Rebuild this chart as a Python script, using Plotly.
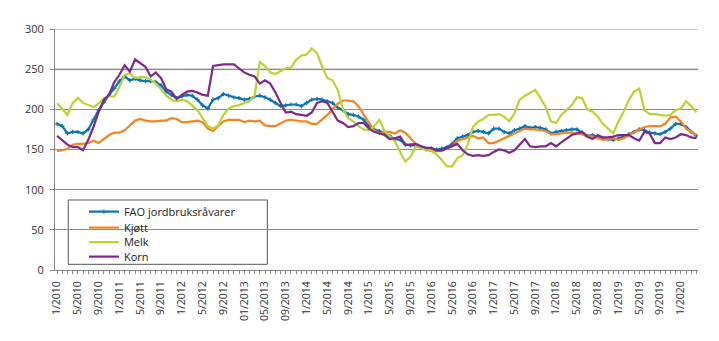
import pandas as pd
import plotly.graph_objects as go

# Monthly index values, January 2010 – April 2020
months = pd.period_range("2010-01", periods=124, freq="M")

fao = [182, 179, 170, 172, 172, 170, 175, 187, 199, 209, 218, 226,
       235, 241, 236, 238, 236, 235, 235, 234, 230, 222, 218, 214,
       216, 218, 217, 212, 205, 201, 212, 214, 219, 217, 215, 214,
       212, 213, 216, 217, 215, 212, 208, 204, 205, 206, 206, 204,
       208, 212, 213, 212, 210, 208, 202, 199, 194, 193, 191, 187,
       179, 175, 173, 170, 167, 163, 162, 156, 155, 155, 153, 150,
       151, 150, 151, 153, 157, 164, 166, 168, 172, 173, 172, 170,
       176, 176, 172, 170, 174, 176, 179, 177, 178, 177, 175, 170,
       172, 173, 174, 175, 175, 171, 167, 168, 166, 164, 163, 162,
       164, 166, 169, 172, 175, 174, 171, 170, 169, 172, 176, 182,
       182, 178, 172, 167]

kjott = [148, 149, 151, 156, 157, 157, 158, 161, 158, 163, 168, 171,
         171, 174, 180, 186, 188, 186, 185, 185, 186, 186, 189, 188,
         184, 184, 185, 186, 184, 176, 173, 179, 185, 187, 187, 187,
         184, 186, 185, 186, 180, 179, 179, 182, 186, 187, 186, 185,
         185, 182, 182, 187, 193, 200, 207, 211, 211, 210, 204, 193,
         183, 174, 170, 172, 172, 170, 174, 171, 164, 157, 154, 152,
         149, 148, 148, 151, 154, 161, 163, 165, 167, 164, 165, 158,
         158, 161, 164, 167, 170, 173, 176, 175, 175, 174, 173, 169,
         169, 170, 171, 171, 170, 169, 166, 166, 164, 162, 163, 164,
         162, 164, 168, 172, 175, 178, 179, 179, 179, 182, 190, 191,
         185, 176, 172, 168]

melk = [208, 200, 193, 208, 214, 208, 205, 203, 207, 214, 216, 216,
        228, 243, 245, 239, 240, 240, 237, 232, 225, 217, 212, 210,
        212, 210, 205, 199, 189, 179, 176, 180, 193, 201, 204, 205,
        208, 210, 217, 259, 254, 246, 244, 248, 251, 252, 262, 267,
        268, 276, 270, 253, 239, 236, 224, 200, 189, 185, 179, 175,
        174, 179, 187, 173, 167, 160, 147, 135, 141, 154, 152, 149,
        148, 144, 137, 129, 129, 139, 143, 156, 178, 185, 188, 193,
        193, 194, 191, 185, 195, 212, 217, 220, 224, 214, 203, 185,
        183, 193, 199, 205, 215, 214, 200, 197, 191, 182, 176, 170,
        185, 197, 212, 222, 226, 199, 194, 194, 193, 192, 193, 199,
        201, 210, 204, 196]

korn = [167, 162, 156, 153, 153, 149, 162, 178, 197, 212, 218, 234,
        243, 255, 247, 262, 258, 253, 241, 246, 239, 225, 222, 213,
        218, 222, 223, 221, 218, 217, 254, 255, 256, 256, 256, 251,
        246, 243, 241, 232, 236, 232, 221, 208, 196, 197, 194, 193,
        192, 196, 208, 210, 208, 197, 186, 183, 178, 179, 183, 183,
        176, 172, 170, 168, 163, 164, 166, 156, 156, 157, 154, 152,
        152, 149, 149, 152, 154, 157, 149, 144, 142, 143, 142, 143,
        147, 150, 149, 146, 149, 156, 163, 154, 153, 154, 154, 158,
        154, 159, 164, 168, 170, 172, 166, 163, 168, 165, 165, 166,
        168, 168, 168, 164, 161, 172, 170, 158, 158, 165, 163, 165,
        169, 168, 165, 164]

series_names = ["FAO jordbruksråvarer", "Kjøtt", "Melk", "Korn"]
series_colors = ["#0b74b3", "#f7841f", "#b8d432", "#7d2a8c"]

# Axis labels every fourth month (the 2013 labels carry a leading zero)
tick_step = 4
tick_text = ["1/2010", "5/2010", "9/2010", "1/2011", "5/2011", "9/2011",
             "1/2012", "5/2012", "9/2012", "01/2013", "05/2013", "09/2013",
             "1/2014", "5/2014", "9/2014", "1/2015", "5/2015", "9/2015",
             "1/2016", "5/2016", "9/2016", "1/2017", "5/2017", "9/2017",
             "1/2018", "5/2018", "9/2018", "1/2019", "5/2019", "9/2019",
             "1/2020"]

x = list(range(len(months)))
font_family = "Open Sans, Noto Sans, sans-serif"

# Each series gets its own single-entry legend so the rows can sit close together
legend_ids = ["legend", "legend2", "legend3", "legend4"]
legend_rows = [0.2423, 0.1759, 0.1154, 0.0556]

fig = go.Figure()
for name, values, color, lid in zip(series_names, [fao, kjott, melk, korn],
                                    series_colors, legend_ids):
    trace = dict(x=x, y=values, name=name, legend=lid,
                 line=dict(color=color, width=2.2))
    if name.startswith("FAO"):
        trace.update(mode="lines+markers",
                     marker=dict(symbol="cross-thin", size=3,
                                 line=dict(color=color, width=1.2)))
    else:
        trace.update(mode="lines")
    fig.add_trace(go.Scatter(**trace))

# Upper gridlines are drawn lighter and a little heavier
for level in (250, 300):
    fig.add_shape(type="line", xref="x domain", yref="y", x0=0, x1=1,
                  y0=level, y1=level, layer="below",
                  line=dict(color="#c4c4c4", width=2))

# Framed legend area
fig.add_shape(type="rect", xref="x domain", yref="y domain",
              x0=0.0206, x1=0.3302, y0=0.0236, y1=0.2905, layer="below",
              fillcolor="white", line=dict(color="#555555", width=1))

legend_style = dict(xanchor="left", yanchor="middle",
                    bgcolor="rgba(0,0,0,0)", borderwidth=0,
                    font=dict(family=font_family, size=11, color="#222222"),
                    itemwidth=30)
layout_legends = {lid: dict(x=0.045, y=row, **legend_style)
                  for lid, row in zip(legend_ids, legend_rows)}

fig.update_layout(
    width=719, height=341,
    margin=dict(l=55, r=21, t=29, b=71),
    paper_bgcolor="white", plot_bgcolor="white",
    font=dict(family=font_family, size=11, color="#333333"),
    showlegend=True,
    **layout_legends,
    xaxis=dict(range=[-0.4, 123.3], tickmode="array",
               tickvals=x[::tick_step], ticktext=tick_text,
               tickangle=-90, showgrid=False, zeroline=False,
               showline=True, linecolor="#888888", linewidth=1,
               ticks="outside", ticklen=3, tickcolor="#888888",
               ticklabelstandoff=3,
               tickfont=dict(size=10.5, color="#333333"),
               minor=dict(dtick=1, tick0=0, ticks="outside", ticklen=3,
                          tickcolor="#888888", showgrid=False)),
    yaxis=dict(range=[0, 300], dtick=50, tick0=0,
               showgrid=True, gridcolor="#8f8f8f", gridwidth=1,
               zeroline=False, showline=True, linecolor="#888888",
               linewidth=1, ticks="outside", ticklen=4,
               tickcolor="#888888", ticklabelstandoff=4,
               tickfont=dict(size=11, color="#333333")),
)

fig.write_html("out.html")
